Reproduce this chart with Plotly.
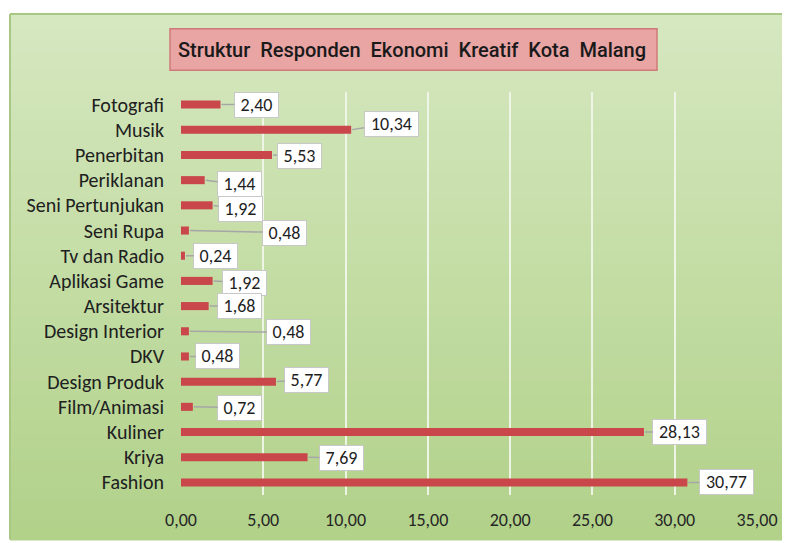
import plotly.graph_objects as go

categories = ["Fotografi", "Musik", "Penerbitan", "Periklanan", "Seni Pertunjukan",
              "Seni Rupa", "Tv dan Radio", "Aplikasi Game", "Arsitektur",
              "Design Interior", "DKV", "Design Produk", "Film/Animasi",
              "Kuliner", "Kriya", "Fashion"]
values = [2.40, 10.34, 5.53, 1.44, 1.92, 0.48, 0.24, 1.92, 1.68,
          0.48, 0.48, 5.77, 0.72, 28.13, 7.69, 30.77]
x_ticks = [0, 5, 10, 15, 20, 25, 30, 35]
title_text = "Struktur  Responden  Ekonomi  Kreatif  Kota  Malang"

# label placement offsets (pixels, style only) relative to bar end
label_dx = [36, 40, 27, 35, 28, 96, 31, 32, 31, 100, 29, 31, 47, 36, 34, 39]
label_dy = [0, -6, 1, 4, 4, 2, 0, 2, 0, 1, 0, -2, 1, 0, 1, 0]

# page has an 8px body margin -> work in shifted pixel coordinates
OFF = 8
W, H = 790 - OFF, 543 - OFF
L, R, T, B = 181 - OFF, 33, 92 - OFF, 43
pw, ph = W - L - R, H - T - B


def px_x(px):
    return (px - OFF - L) / pw


def px_y(py):
    return (H - B - (py - OFF)) / ph


fig = go.Figure()
fig.add_trace(go.Bar(
    x=values, y=categories, orientation="h",
    marker=dict(color="#c9464b", line=dict(width=0)),
    width=0.32, hoverinfo="x+y",
))

shapes = []
# gradient green panel
n = 40
top, bot = 13, 545
c0 = (214, 232, 192)
c1 = (178, 210, 138)
for i in range(n):
    f = i / (n - 1)
    col = tuple(int(c0[k] + (c1[k] - c0[k]) * f) for k in range(3))
    y0 = top + (bot - top) * i / n
    y1 = top + (bot - top) * (i + 1) / n + 1
    shapes.append(dict(type="rect", xref="paper", yref="paper",
                       x0=px_x(10), x1=px_x(795), y0=px_y(y1), y1=px_y(y0),
                       fillcolor="rgb(%d,%d,%d)" % col, line=dict(width=0),
                       layer="below"))
# panel border
shapes.append(dict(type="line", xref="paper", yref="paper",
                   x0=px_x(10), x1=px_x(795), y0=px_y(13), y1=px_y(13),
                   line=dict(color="#a9c784", width=2), layer="below"))
shapes.append(dict(type="line", xref="paper", yref="paper",
                   x0=px_x(10), x1=px_x(10), y0=px_y(13), y1=px_y(545),
                   line=dict(color="#a9c784", width=2), layer="below"))
# title box
shapes.append(dict(type="rect", xref="paper", yref="paper",
                   x0=px_x(170), x1=px_x(657), y0=px_y(70), y1=px_y(28),
                   fillcolor="#e9a4a4", line=dict(color="#cf7a7a", width=1.5)))
fig.update_layout(shapes=shapes)

lab_font = "Carlito, Lato, sans-serif"
annotations = []
for c, v, dx, dy in zip(categories, values, label_dx, label_dy):
    txt = ("%.2f" % v).replace(".", ",")
    annotations.append(dict(
        x=v, y=c, xref="x", yref="y",
        text=txt,
        showarrow=True, arrowhead=0, arrowwidth=1.5, arrowcolor="#a6a6a6",
        ax=dx, ay=dy, axref="pixel", ayref="pixel",
        standoff=1,
        width=41 if len(txt) == 4 else 51, height=22,
        bgcolor="white", bordercolor="#c8c8c8", borderwidth=1, borderpad=1,
        font=dict(family=lab_font, size=18, color="#1e1e1e"),
    ))
annotations.append(dict(
    xref="paper", yref="paper", x=px_x(412), y=px_y(49),
    text=title_text,
    showarrow=False,
    font=dict(family="Roboto, sans-serif", size=20, color="#1a1a1a", weight=500),
    xanchor="center", yanchor="middle",
))
fig.update_layout(annotations=annotations)

fig.update_layout(
    width=W, height=H,
    margin=dict(l=L, r=R, t=T, b=B, pad=0),
    paper_bgcolor="white", plot_bgcolor="rgba(0,0,0,0)",
    separators=",.",
    showlegend=False,
    xaxis=dict(range=[0, 35], tickvals=x_ticks, tickformat=".2f",
               showgrid=True, gridcolor="rgba(240,246,232,0.95)", gridwidth=2,
               zeroline=False, showline=False, ticks="",
               tickfont=dict(family=lab_font, size=18, color="#262626"),
               ticklabelstandoff=12, fixedrange=True),
    yaxis=dict(categoryorder="array", categoryarray=categories,
               range=[15.5, -0.5], showgrid=False, zeroline=False,
               showline=False, ticks="",
               tickfont=dict(family=lab_font, size=20, color="#202020"),
               ticklabelstandoff=16, fixedrange=True),
)

fig.write_html("out.html")
